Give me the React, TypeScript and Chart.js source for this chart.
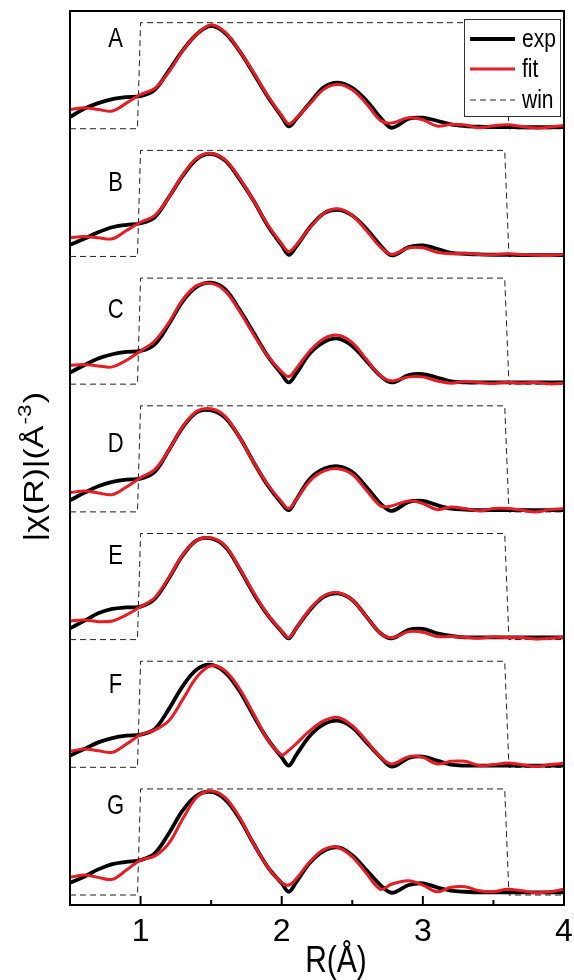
import React, { useEffect, useRef } from 'react';
import { Chart, registerables } from 'chart.js';

Chart.register(...registerables);

// ---------- data ----------
const R_GRID = [0.5, 0.6, 0.7, 0.8, 0.9, 1.0, 1.1, 1.2, 1.3, 1.4, 1.5, 1.6, 1.7, 1.8, 1.9, 2.0, 2.05, 2.1, 2.2, 2.3, 2.4, 2.5, 2.6, 2.7, 2.78, 2.9, 3.0, 3.1, 3.2, 3.3, 3.4, 3.5, 3.6, 3.7, 3.8, 3.9, 4.0];

const EXP_A = [0.117, 0.2, 0.257, 0.297, 0.317, 0.327, 0.39, 0.583, 0.787, 0.95, 1.03, 0.957, 0.78, 0.557, 0.323, 0.12, 0.023, 0.093, 0.26, 0.417, 0.463, 0.41, 0.283, 0.11, 0.01, 0.1, 0.11, 0.08, 0.043, 0.027, 0.02, 0.017, 0.017, 0.015, 0.015, 0.015, 0.017];
const FIT_A = [0.193, 0.21, 0.193, 0.177, 0.257, 0.343, 0.403, 0.567, 0.783, 0.95, 1.043, 0.967, 0.783, 0.567, 0.333, 0.133, 0.05, 0.1, 0.25, 0.397, 0.443, 0.39, 0.25, 0.083, 0.057, 0.11, 0.09, 0.027, 0.043, 0.037, 0.01, 0.03, 0.04, 0.023, 0.007, 0.017, 0.033];

const EXP_B = [0.117, 0.177, 0.243, 0.293, 0.317, 0.333, 0.393, 0.593, 0.81, 0.977, 1.027, 0.96, 0.777, 0.56, 0.31, 0.11, 0.017, 0.093, 0.293, 0.433, 0.467, 0.41, 0.277, 0.11, 0.01, 0.093, 0.11, 0.077, 0.037, 0.027, 0.02, 0.017, 0.017, 0.013, 0.013, 0.013, 0.013];
const FIT_B = [0.187, 0.2, 0.187, 0.177, 0.26, 0.343, 0.41, 0.593, 0.82, 0.987, 1.033, 0.967, 0.787, 0.56, 0.32, 0.127, 0.05, 0.11, 0.287, 0.433, 0.477, 0.41, 0.26, 0.093, 0.02, 0.087, 0.087, 0.043, 0.027, 0.033, 0.02, 0.017, 0.027, 0.02, 0.013, 0.01, 0.02];

const EXP_C = [0.117, 0.19, 0.257, 0.3, 0.323, 0.333, 0.4, 0.6, 0.833, 0.977, 1.017, 0.95, 0.75, 0.517, 0.283, 0.1, 0.017, 0.1, 0.31, 0.423, 0.457, 0.383, 0.233, 0.083, 0.017, 0.09, 0.1, 0.067, 0.027, 0.017, 0.017, 0.017, 0.017, 0.017, 0.017, 0.017, 0.017];
const FIT_C = [0.19, 0.197, 0.183, 0.173, 0.24, 0.333, 0.433, 0.617, 0.85, 0.99, 1.01, 0.933, 0.733, 0.5, 0.283, 0.123, 0.077, 0.15, 0.333, 0.457, 0.49, 0.417, 0.25, 0.083, 0.033, 0.073, 0.073, 0.033, 0.01, 0.027, 0.017, 0.007, 0.02, 0.01, 0.017, 0.003, 0.01];

const EXP_D = [0.117, 0.19, 0.257, 0.3, 0.323, 0.333, 0.4, 0.617, 0.85, 1.0, 1.017, 0.943, 0.75, 0.5, 0.267, 0.083, 0.017, 0.117, 0.333, 0.433, 0.457, 0.4, 0.25, 0.083, 0.01, 0.1, 0.11, 0.067, 0.033, 0.023, 0.017, 0.017, 0.017, 0.017, 0.017, 0.017, 0.017];
const FIT_D = [0.193, 0.21, 0.19, 0.173, 0.25, 0.343, 0.423, 0.617, 0.857, 1.01, 1.033, 0.957, 0.75, 0.5, 0.277, 0.1, 0.033, 0.117, 0.31, 0.41, 0.433, 0.377, 0.217, 0.06, 0.06, 0.11, 0.083, 0.023, 0.05, 0.033, 0.01, 0.033, 0.033, 0.017, 0.0, 0.023, 0.033];

const EXP_E = [0.113, 0.187, 0.263, 0.307, 0.323, 0.33, 0.407, 0.613, 0.847, 0.997, 1.013, 0.93, 0.713, 0.463, 0.247, 0.08, 0.013, 0.107, 0.297, 0.43, 0.463, 0.397, 0.23, 0.063, 0.013, 0.097, 0.107, 0.063, 0.037, 0.023, 0.023, 0.023, 0.023, 0.023, 0.023, 0.023, 0.023];
const FIT_E = [0.187, 0.197, 0.18, 0.187, 0.247, 0.33, 0.42, 0.62, 0.853, 0.997, 1.02, 0.94, 0.72, 0.473, 0.253, 0.087, 0.02, 0.107, 0.307, 0.44, 0.47, 0.397, 0.23, 0.063, 0.02, 0.08, 0.073, 0.03, 0.03, 0.023, 0.013, 0.027, 0.02, 0.02, 0.007, 0.013, 0.027];

const EXP_F = [0.117, 0.183, 0.25, 0.293, 0.317, 0.327, 0.383, 0.583, 0.817, 0.983, 1.027, 0.95, 0.767, 0.517, 0.283, 0.1, 0.017, 0.117, 0.317, 0.433, 0.467, 0.4, 0.25, 0.1, 0.007, 0.093, 0.107, 0.067, 0.027, 0.017, 0.017, 0.017, 0.017, 0.017, 0.017, 0.017, 0.017];
const FIT_F = [0.16, 0.183, 0.167, 0.15, 0.233, 0.327, 0.373, 0.467, 0.683, 0.907, 1.017, 0.967, 0.79, 0.54, 0.28, 0.125, 0.17, 0.233, 0.367, 0.467, 0.5, 0.417, 0.267, 0.1, 0.033, 0.107, 0.1, 0.033, 0.06, 0.06, 0.017, 0.027, 0.043, 0.027, 0.007, 0.027, 0.04];

const EXP_G = [0.123, 0.183, 0.257, 0.31, 0.333, 0.35, 0.417, 0.617, 0.85, 1.0, 1.033, 0.957, 0.767, 0.517, 0.283, 0.117, 0.033, 0.123, 0.323, 0.443, 0.477, 0.4, 0.25, 0.1, 0.023, 0.1, 0.117, 0.077, 0.043, 0.033, 0.027, 0.027, 0.027, 0.027, 0.027, 0.027, 0.027];
const FIT_G = [0.177, 0.2, 0.177, 0.157, 0.25, 0.35, 0.39, 0.517, 0.767, 0.983, 1.043, 0.977, 0.783, 0.517, 0.283, 0.123, 0.1, 0.157, 0.333, 0.457, 0.477, 0.383, 0.217, 0.057, 0.11, 0.143, 0.1, 0.033, 0.077, 0.083, 0.043, 0.033, 0.057, 0.043, 0.023, 0.033, 0.057];

const WIN_R = [0.5, 0.978, 1.0, 3.58, 3.61, 4.0];
const WIN_VAL = [0, 0, 1.063, 1.063, 0, 0];

const PANELS = ['A', 'B', 'C', 'D', 'E', 'F', 'G'];
const EXP = [EXP_A, EXP_B, EXP_C, EXP_D, EXP_E, EXP_F, EXP_G];
const FIT = [FIT_A, FIT_B, FIT_C, FIT_D, FIT_E, FIT_F, FIT_G];

const X_TICKS = [1, 1.5, 2, 2.5, 3, 3.5, 4];
const X_LABELED = [1, 2, 3, 4];
const LEGEND_LABELS = ['exp', 'fit', 'win'];
const X_TITLE = 'R(Å)';
const Y_TITLE_MAIN = '|χ(R)|(Å';
const Y_TITLE_SUP = '-3';
const Y_TITLE_END = ')';

// ---------- layout / style ----------
const LETTER_X = 0.823;
const LETTER_Y = [0.9, 0.73, 0.74, 0.68, 0.83, 0.82, 0.89];
const FONT = '"Liberation Sans", Arial, Helvetica, sans-serif';
const STRETCH = 1.25;
const RED = 'rgb(232,28,36)';
const BLACK = '#000000';

function stretchedText(ctx: CanvasRenderingContext2D, text: string, x: number, y: number, size: number, align: CanvasTextAlign, baseline: CanvasTextBaseline) {
  ctx.save();
  ctx.translate(x, y);
  ctx.scale(1, STRETCH);
  ctx.font = `${size}px ${FONT}`;
  ctx.fillStyle = '#000';
  ctx.textAlign = align;
  ctx.textBaseline = baseline;
  ctx.fillText(text, 0, 0);
  ctx.restore();
}

const decorPlugin = {
  id: 'decor',
  afterDraw(chart: any) {
    const ctx: CanvasRenderingContext2D = chart.ctx;
    const area = chart.chartArea;
    const xs = chart.scales.x;

    // frame
    ctx.save();
    ctx.strokeStyle = '#000';
    ctx.lineWidth = 2;
    ctx.strokeRect(area.left, area.top, area.right - area.left, area.bottom - area.top);

    // inward ticks on bottom axis
    xs.ticks.forEach((t: any) => {
      const px = xs.getPixelForValue(t.value);
      const len = X_LABELED.includes(t.value) ? 9 : 5;
      ctx.beginPath();
      ctx.moveTo(px, area.bottom);
      ctx.lineTo(px, area.bottom - len);
      ctx.stroke();
    });
    ctx.restore();

    // panel letters
    PANELS.forEach((p, i) => {
      const ys = chart.scales['y' + p];
      const px = xs.getPixelForValue(LETTER_X);
      const py = ys.getPixelForValue(LETTER_Y[i]);
      stretchedText(ctx, p, px, py, 22, 'center', 'middle');
    });

    // legend
    const bx = area.right - 100;
    const by = area.top + 8;
    const bw = 96;
    const bh = 97;
    ctx.save();
    ctx.fillStyle = '#fff';
    ctx.fillRect(bx, by, bw, bh);
    ctx.strokeStyle = '#333';
    ctx.lineWidth = 1;
    ctx.strokeRect(Math.round(bx) + 0.5, Math.round(by) + 0.5, bw, bh);
    const ds = chart.data.datasets;
    const legendSets = [ds[1], ds[0], ds[2]];
    const rowsY = [by + 20, by + 50, by + 81];
    legendSets.forEach((d: any, k: number) => {
      const ly = rowsY[k];
      ctx.save();
      ctx.strokeStyle = d.borderColor;
      ctx.lineWidth = d.borderWidth;
      ctx.setLineDash(d.borderDash || []);
      ctx.beginPath();
      ctx.moveTo(bx + 6, ly);
      ctx.lineTo(bx + 51, ly);
      ctx.stroke();
      ctx.restore();
      stretchedText(ctx, LEGEND_LABELS[k], bx + 58, ly + 8, 21, 'left', 'alphabetic');
    });
    ctx.restore();

    // x title
    stretchedText(ctx, X_TITLE, 336, 972, 30, 'center', 'alphabetic');

    // y title (rotated)
    ctx.save();
    const cx = 35;
    const cy = (area.top + area.bottom) / 2 + 10;
    ctx.translate(cx, cy);
    ctx.rotate(-Math.PI / 2);
    ctx.scale(STRETCH, 1);
    ctx.fillStyle = '#000';
    ctx.textBaseline = 'alphabetic';
    ctx.textAlign = 'left';
    const mainFont = `27px ${FONT}`;
    const supFont = `18px ${FONT}`;
    ctx.font = mainFont;
    const w1 = ctx.measureText(Y_TITLE_MAIN).width;
    const w3 = ctx.measureText(Y_TITLE_END).width;
    ctx.font = supFont;
    const w2 = ctx.measureText(Y_TITLE_SUP).width;
    let sx = -(w1 + w2 + w3) / 2;
    ctx.font = mainFont;
    ctx.fillText(Y_TITLE_MAIN, sx, 8);
    sx += w1;
    ctx.font = supFont;
    ctx.fillText(Y_TITLE_SUP, sx + 1, -4);
    sx += w2 + 2;
    ctx.font = mainFont;
    ctx.fillText(Y_TITLE_END, sx, 8);
    ctx.restore();
  },
};

export default function App() {
  const ref = useRef<HTMLCanvasElement>(null);

  useEffect(() => {
    const canvas = ref.current;
    if (!canvas) return;
    const datasets: any[] = [];
    PANELS.forEach((p, i) => {
      const yID = 'y' + p;
      datasets.push({
        label: 'fit ' + p,
        data: R_GRID.map((r, k) => ({ x: r, y: FIT[i][k] })),
        yAxisID: yID,
        borderColor: RED,
        borderWidth: 3,
        pointRadius: 0,
        tension: 0.35,
        borderJoinStyle: 'round',
        fill: false,
        order: 0,
      });
      datasets.push({
        label: 'exp ' + p,
        data: R_GRID.map((r, k) => ({ x: r, y: EXP[i][k] })),
        yAxisID: yID,
        borderColor: BLACK,
        borderWidth: 3.8,
        pointRadius: 0,
        tension: 0.35,
        borderJoinStyle: 'round',
        fill: false,
        order: 1,
      });
      datasets.push({
        label: 'win ' + p,
        data: WIN_R.map((r, k) => ({ x: r, y: WIN_VAL[k] })),
        yAxisID: yID,
        borderColor: '#222',
        borderWidth: 1,
        borderDash: [6, 4],
        pointRadius: 0,
        tension: 0,
        fill: false,
        order: 2,
      });
    });

    const scales: any = {
      x: {
        type: 'linear',
        position: 'bottom',
        min: 0.5,
        max: 4,
        grid: { display: false, drawTicks: false },
        border: { display: false },
        afterBuildTicks: (s: any) => {
          s.ticks = X_TICKS.map((v) => ({ value: v }));
        },
        afterFit: (s: any) => {
          s.height = 75;
          s.paddingLeft = 0;
          s.paddingRight = 0;
        },
        ticks: {
          autoSkip: false,
          maxRotation: 0,
          padding: 8,
          color: '#000',
          font: { family: FONT, size: 32 },
          callback: (v: any) => (X_LABELED.includes(Number(v)) ? String(v) : ''),
        },
      },
    };
    // defined bottom-to-top: the last left-stacked axis is placed on top
    [...PANELS].reverse().forEach((p) => {
      scales['y' + p] = {
        type: 'linear',
        position: 'left',
        stack: 'panels',
        stackWeight: 1,
        min: -0.1,
        max: 1.18,
        display: true,
        grid: { display: false, drawTicks: false },
        border: { display: false },
        ticks: { display: false },
        afterFit: (s: any) => {
          s.width = 0;
          s.paddingTop = 0;
          s.paddingBottom = 0;
        },
      };
    });

    const chart = new Chart(canvas, {
      type: 'line',
      data: { datasets },
      options: {
        animation: false,
        responsive: false,
        maintainAspectRatio: false,
        layout: { padding: { left: 70, right: 10, top: 11, bottom: 0 } },
        plugins: {
          legend: { display: false },
          tooltip: { enabled: false },
        },
        scales,
      },
      plugins: [decorPlugin],
    });
    return () => chart.destroy();
  }, []);

  return (
    <div style={{ position: 'fixed', left: 0, top: 0, width: 574, height: 980, background: '#fff' }}>
      <canvas ref={ref} width={574} height={980} style={{ width: 574, height: 980, display: 'block' }} />
    </div>
  );
}
